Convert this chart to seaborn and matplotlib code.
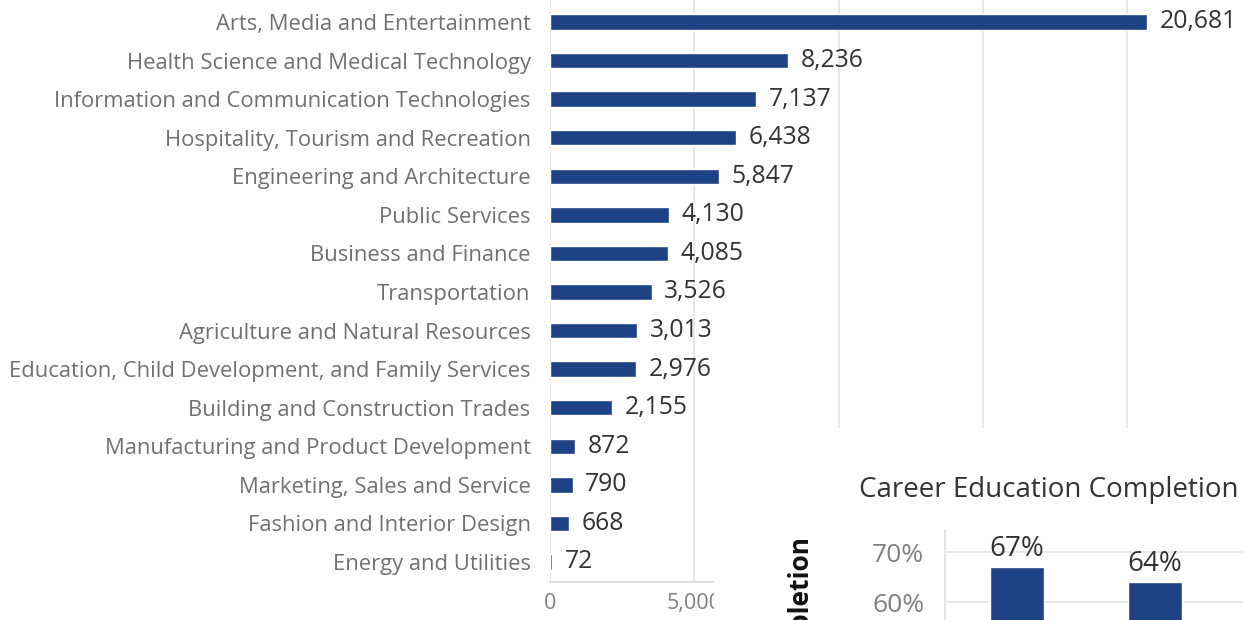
import matplotlib
matplotlib.use("Agg")
import matplotlib.pyplot as plt
import seaborn as sns
import pandas as pd

categories = [
    "Arts, Media and Entertainment",
    "Health Science and Medical Technology",
    "Information and Communication Technologies",
    "Hospitality, Tourism and Recreation",
    "Engineering and Architecture",
    "Public Services",
    "Business and Finance",
    "Transportation",
    "Agriculture and Natural Resources",
    "Education, Child Development, and Family Services",
    "Building and Construction Trades",
    "Manufacturing and Product Development",
    "Marketing, Sales and Service",
    "Fashion and Interior Design",
    "Energy and Utilities",
]
enrollments = [20681, 8236, 7137, 6438, 5847, 4130, 4085, 3526, 3013, 2976, 2155, 872, 790, 668, 72]
x_ticks = [0, 5000, 10000, 15000, 20000]
x_tick_labels = ["0", "5,000", "10,000", "15,000", "20,000"]

inset_title = "Career Education Completion"
inset_ylabel = "Completion"
inset_groups = ["Group 1", "Group 2"]
inset_values = [67, 64]
inset_ticks = [60, 70]
inset_tick_labels = ["60%", "70%"]

sns.set_theme(style="white")
plt.rcParams["font.family"] = ["Open Sans", "DejaVu Sans"]

BAR = "#1d4285"
W, H = 1243, 620
fig = plt.figure(figsize=(W / 100, H / 100), dpi=100)

# main chart
ax = fig.add_axes([550 / W, (H - 582) / H, (W - 550) / W, 582 / H])
df = pd.DataFrame({"category": categories, "value": enrollments})
sns.barplot(data=df, x="value", y="category", color=BAR, width=0.40,
            saturation=1, ax=ax)
ax.set_xlim(0, 693 / 0.02887)
ax.set_ylim(14.52, -0.57)
ax.set_xticks(x_ticks)
ax.set_xticklabels(x_tick_labels)
# tick labels that sit under the overlapping inset panel are hidden
for lbl in ax.get_xticklabels()[2:]:
    lbl.set_visible(False)
ax.set_xlabel("")
ax.set_ylabel("")
ax.tick_params(axis="y", length=0, pad=14, labelsize=15.8, labelcolor="#707070")
ax.tick_params(axis="x", length=0, pad=8, labelsize=15.5, labelcolor="#808080")
ax.xaxis.grid(True, color="#e4e4e4", lw=1.2)
ax.yaxis.grid(False)
ax.set_axisbelow(True)
for s in ["top", "right", "left"]:
    ax.spines[s].set_visible(False)
ax.spines["bottom"].set_color("#dcdcdc")
ax.bar_label(ax.containers[0], labels=[f"{v:,}" for v in enrollments],
             padding=9, fontsize=17.8, color="#333333")

# white cover panel for the inset
cover = fig.add_axes([714 / W, 0, (W - 714) / W, (H - 428) / H], zorder=5)
cover.set_facecolor("white")
cover.set_xticks([])
cover.set_yticks([])
for s in cover.spines.values():
    s.set_visible(False)

fig.text(1049 / W, 1 - 490 / H, inset_title, ha="center", va="center",
         fontsize=20, color="#333333", zorder=10)
fig.text(800 / W, 1 - 535 / H, inset_ylabel, ha="center", va="top",
         rotation=90, fontsize=19, fontweight="bold", color="#111111", zorder=10)

# inset chart
ax2 = fig.add_axes([945 / W, 0, (W - 945) / W, (H - 530) / H], zorder=6)
idf = pd.DataFrame({"group": inset_groups, "value": inset_values})
sns.barplot(data=idf, x="group", y="value", color=BAR, width=0.39,
            saturation=1, ax=ax2)
ax2.set_xlim(-0.52, (W - 1017) / 138)
ax2.set_ylim(56.4, 74.4)
ax2.set_yticks(inset_ticks)
ax2.set_yticklabels(inset_tick_labels)
ax2.set_xticks([])
ax2.set_xlabel("")
ax2.set_ylabel("")
ax2.tick_params(axis="y", length=0, pad=15, labelsize=19, labelcolor="#808080")
ax2.yaxis.grid(True, color="#e4e4e4", lw=1.2)
ax2.set_axisbelow(True)
for s in ["top", "right", "bottom"]:
    ax2.spines[s].set_visible(False)
ax2.spines["left"].set_color("#e0e0e0")
ax2.set_facecolor("white")
ax2.bar_label(ax2.containers[0], labels=[f"{v}%" for v in inset_values],
              padding=3, fontsize=20, color="#333333", clip_on=False)

fig.savefig("out.png", dpi=100)
